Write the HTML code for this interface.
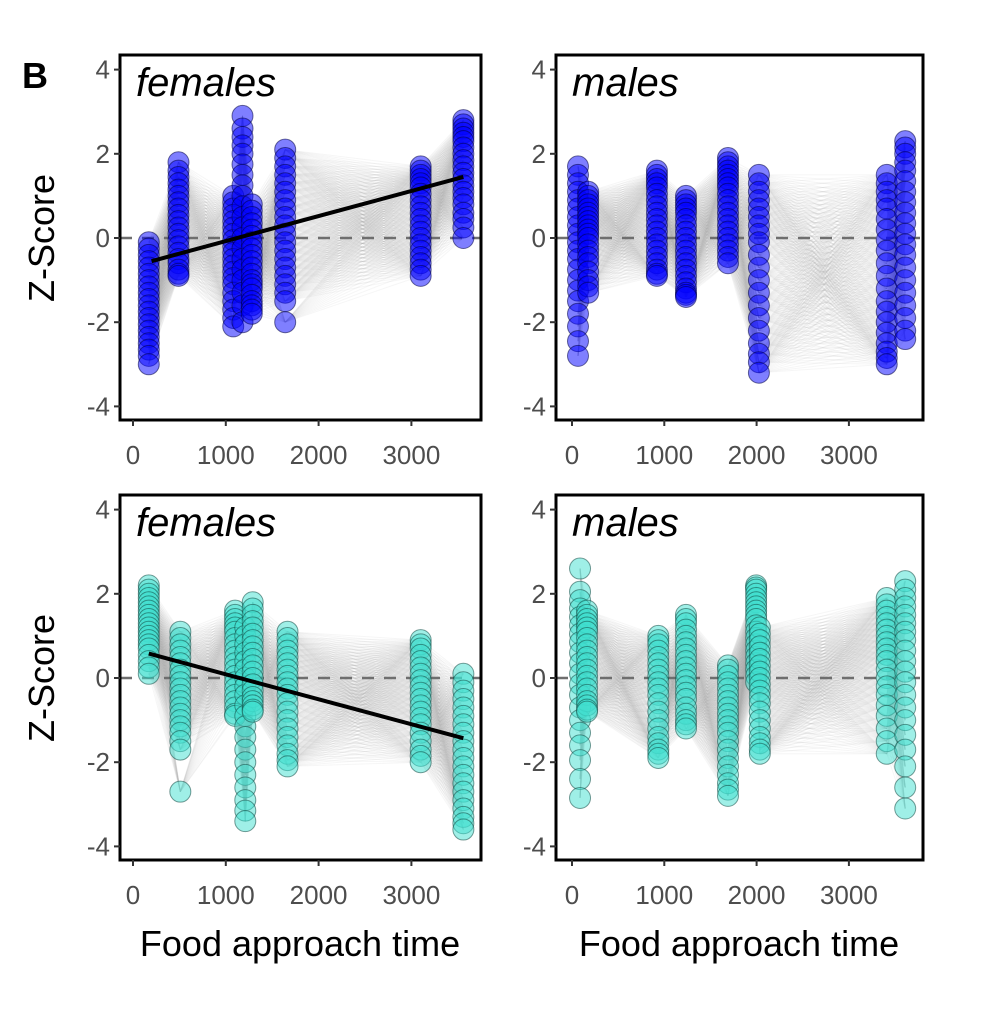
<!DOCTYPE html>
<html><head><meta charset="utf-8"><style>
body{margin:0;background:#fff;}
svg text{font-family:"Liberation Sans",sans-serif;}
</style></head><body>
<svg id="chart" width="988" height="1008" xmlns="http://www.w3.org/2000/svg">
<rect width="988" height="1008" fill="#fff"/>
<text x="22" y="88" font-size="36" font-weight="bold">B</text>
<g id="panels"></g>
<text transform="translate(54,238) rotate(-90)" text-anchor="middle" font-size="36">Z-Score</text>
<text transform="translate(54,678) rotate(-90)" text-anchor="middle" font-size="36">Z-Score</text>
<text x="300" y="956" text-anchor="middle" font-size="36">Food approach time</text>
<text x="739" y="956" text-anchor="middle" font-size="36">Food approach time</text>
</svg>
<script>
const xTicks=[0,1000,2000,3000];
const yTicks=[4,2,0,-2,-4];
// top-left: females (blue)
const tlTimes=[170,490,1080,1180,1280,1640,3100,3560];
const tlVals=[
[-0.1,-0.25,-0.4,-0.55,-0.7,-0.85,-1.0,-1.15,-1.3,-1.45,-1.6,-1.75,-1.9,-2.05,-2.2,-2.35,-2.5,-2.65,-2.8,-3.0],
[1.8,1.6,1.45,1.3,1.15,1.0,0.85,0.7,0.55,0.4,0.25,0.1,-0.05,-0.2,-0.35,-0.5,-0.6,-0.75,-0.85,-0.9],
[1.0,0.85,0.7,0.55,0.4,0.25,0.1,-0.05,-0.2,-0.35,-0.5,-0.65,-0.8,-0.95,-1.1,-1.3,-1.5,-1.7,-1.9,-2.1],
[2.9,2.6,2.4,2.2,2.0,1.75,1.5,1.25,1.0,0.75,0.5,0.25,0.0,-0.25,-0.5,-0.75,-1.0,-1.3,-1.6,-2.0],
[0.8,0.65,0.5,0.35,0.2,0.05,-0.1,-0.25,-0.4,-0.55,-0.7,-0.85,-1.0,-1.1,-1.2,-1.35,-1.5,-1.6,-1.7,-1.8],
[2.1,1.9,1.7,1.5,1.3,1.1,0.9,0.7,0.5,0.3,0.1,-0.1,-0.3,-0.5,-0.7,-0.9,-1.1,-1.3,-1.5,-2.0],
[1.7,1.6,1.5,1.4,1.3,1.2,1.05,0.9,0.75,0.6,0.45,0.3,0.15,0.0,-0.15,-0.3,-0.45,-0.6,-0.75,-0.9],
[2.8,2.7,2.6,2.5,2.4,2.3,2.15,2.0,1.85,1.7,1.55,1.4,1.25,1.1,0.95,0.8,0.6,0.45,0.25,0.0]];
const tlFit=[[200,-0.55],[3560,1.45]];
// top-right: males (blue)
const trTimes=[65,175,920,1235,1690,2025,3410,3610];
const trVals=[
[1.7,1.5,1.3,1.1,0.9,0.7,0.5,0.3,0.1,-0.1,-0.3,-0.5,-0.75,-1.0,-1.25,-1.5,-1.8,-2.1,-2.45,-2.8],
[1.1,1.0,0.9,0.8,0.7,0.6,0.5,0.4,0.3,0.2,0.1,0.0,-0.15,-0.3,-0.45,-0.6,-0.8,-1.0,-1.15,-1.3],
[1.6,1.5,1.4,1.3,1.2,1.05,0.9,0.75,0.6,0.45,0.3,0.15,0.0,-0.15,-0.3,-0.45,-0.6,-0.75,-0.85,-0.9],
[1.0,0.9,0.8,0.7,0.6,0.45,0.3,0.15,0.0,-0.15,-0.3,-0.45,-0.6,-0.75,-0.9,-1.05,-1.2,-1.3,-1.35,-1.4],
[1.9,1.8,1.7,1.6,1.5,1.4,1.3,1.2,1.05,0.9,0.75,0.6,0.45,0.3,0.15,0.0,-0.15,-0.3,-0.45,-0.6],
[1.5,1.3,1.1,0.9,0.7,0.5,0.3,0.1,-0.1,-0.4,-0.7,-1.0,-1.3,-1.6,-1.9,-2.2,-2.5,-2.75,-2.95,-3.2],
[1.5,1.3,1.1,0.9,0.7,0.45,0.2,-0.05,-0.3,-0.6,-0.9,-1.2,-1.5,-1.75,-2.0,-2.25,-2.5,-2.7,-2.85,-3.0],
[2.3,2.15,2.0,1.8,1.6,1.35,1.1,0.85,0.6,0.35,0.1,-0.15,-0.4,-0.7,-1.0,-1.3,-1.6,-1.9,-2.2,-2.4]];
// bottom-left: females (teal)
const blTimes=[170,510,1100,1210,1290,1665,3100,3560];
const blVals=[
[2.2,2.1,2.0,1.9,1.8,1.7,1.6,1.5,1.4,1.3,1.2,1.1,1.0,0.9,0.8,0.7,0.55,0.4,0.25,0.1],
[1.1,0.95,0.8,0.65,0.5,0.35,0.2,0.05,-0.1,-0.25,-0.4,-0.55,-0.7,-0.85,-1.0,-1.15,-1.3,-1.5,-1.7,-2.7],
[1.6,1.5,1.4,1.3,1.2,1.1,0.95,0.8,0.65,0.5,0.35,0.2,0.05,-0.1,-0.25,-0.4,-0.55,-0.7,-0.85,-0.9],
[1.2,1.0,0.8,0.6,0.4,0.2,0.0,-0.2,-0.4,-0.65,-0.9,-1.15,-1.4,-1.7,-2.0,-2.3,-2.6,-2.9,-3.15,-3.4],
[1.8,1.65,1.5,1.35,1.2,1.05,0.9,0.75,0.6,0.45,0.3,0.15,0.0,-0.15,-0.3,-0.45,-0.55,-0.65,-0.75,-0.8],
[1.1,0.95,0.8,0.65,0.5,0.35,0.2,0.05,-0.1,-0.25,-0.4,-0.6,-0.8,-1.0,-1.2,-1.4,-1.6,-1.8,-1.95,-2.1],
[0.9,0.8,0.7,0.55,0.4,0.25,0.1,-0.05,-0.2,-0.35,-0.5,-0.65,-0.8,-0.95,-1.1,-1.3,-1.5,-1.7,-1.85,-2.0],
[0.1,-0.1,-0.3,-0.5,-0.7,-0.9,-1.1,-1.3,-1.5,-1.7,-1.9,-2.1,-2.3,-2.5,-2.7,-2.9,-3.1,-3.3,-3.45,-3.6]];
const blFit=[[170,0.58],[3560,-1.43]];
// bottom-right: males (teal)
const brTimes=[87,163,935,1235,1690,1995,2035,3410,3610];
const brVals=[
[2.6,2.05,1.85,1.65,1.45,1.25,1.05,0.85,0.6,0.35,0.1,-0.15,-0.4,-0.7,-1.0,-1.3,-1.6,-1.95,-2.4,-2.85],
[1.6,1.5,1.4,1.3,1.2,1.1,0.95,0.8,0.65,0.5,0.35,0.2,0.05,-0.1,-0.25,-0.4,-0.55,-0.65,-0.75,-0.8],
[1.0,0.9,0.8,0.65,0.5,0.35,0.2,0.05,-0.1,-0.25,-0.4,-0.6,-0.8,-1.0,-1.2,-1.4,-1.55,-1.7,-1.8,-1.9],
[1.5,1.4,1.3,1.15,1.0,0.85,0.7,0.55,0.4,0.25,0.1,-0.05,-0.2,-0.35,-0.5,-0.7,-0.85,-1.0,-1.1,-1.2],
[0.3,0.2,0.05,-0.1,-0.25,-0.4,-0.55,-0.7,-0.85,-1.0,-1.15,-1.3,-1.5,-1.7,-1.9,-2.1,-2.3,-2.5,-2.65,-2.8],
[2.2,2.15,2.1,2.0,1.9,1.8,1.7,1.6,1.5,1.4,1.25,1.1,0.95,0.8,0.65,0.5,0.35,0.2,0.05,-0.1],
[1.2,1.05,0.9,0.75,0.6,0.45,0.3,0.15,0.0,-0.15,-0.3,-0.45,-0.6,-0.8,-1.0,-1.2,-1.4,-1.55,-1.7,-1.8],
[1.9,1.75,1.6,1.45,1.3,1.15,1.0,0.85,0.7,0.55,0.4,0.2,0.0,-0.2,-0.4,-0.65,-0.9,-1.2,-1.5,-1.8],
[2.3,2.1,1.9,1.7,1.5,1.3,1.1,0.9,0.65,0.4,0.15,-0.1,-0.4,-0.7,-1.0,-1.35,-1.7,-2.1,-2.6,-3.1]];

const NS='http://www.w3.org/2000/svg';
const root=document.getElementById('panels');
function mk(tag,attrs,parent){const e=document.createElementNS(NS,tag);for(const k in attrs)e.setAttribute(k,attrs[k]);parent.appendChild(e);return e;}

function panel(cfg){
  const g=mk('g',{},root);
  
  
  const X=v=>cfg.x0+v*cfg.kx, Y=v=>cfg.y0-v*42.1;
  const lg=mk('g',{stroke:'#b0b0b0','stroke-width':1,'stroke-opacity':0.11,fill:'none'},g);
  
  
  for(let c=0;c<cfg.times.length-1;c++){
    cfg.vals[c].forEach(a=>cfg.vals[c+1].forEach(b=>{
      mk('line',{x1:X(cfg.times[c]),y1:Y(a),x2:X(cfg.times[c+1]),y2:Y(b)},lg);
    }));
  }
  const z=mk('line',{x1:cfg.L,x2:cfg.R,y1:Y(0),y2:Y(0),stroke:'#6e6e6e','stroke-width':2.5,'stroke-dasharray':'12 10'},g);
  
  
  const pg=mk('g',{},g);
  
  
  cfg.times.forEach((t,c)=>cfg.vals[c].forEach(v=>{
    const p=mk('circle',{cx:X(t),cy:Y(v),r:10.5,fill:cfg.fill,'fill-opacity':0.5,stroke:cfg.stroke,'stroke-opacity':0.55,'stroke-width':1},pg);
    
    
  }));
  if(cfg.fit){
    const f=mk('line',{x1:X(cfg.fit[0][0]),y1:Y(cfg.fit[0][1]),x2:X(cfg.fit[1][0]),y2:Y(cfg.fit[1][1]),stroke:'#000','stroke-width':4},g);
    
    
  }
  const b=mk('rect',{x:cfg.L,y:cfg.T,width:cfg.R-cfg.L,height:cfg.B-cfg.T,fill:'none',stroke:'#000','stroke-width':3},g);
  
  
  yTicks.forEach(t=>{
    mk('line',{x1:cfg.L-6,x2:cfg.L,y1:Y(t),y2:Y(t),stroke:'#333','stroke-width':2},g);
    const tx=mk('text',{x:cfg.L-10,y:Y(t)+9,'text-anchor':'end','font-size':26,fill:'#4d4d4d'},g);
    tx.textContent=t;
    
    
  });
  xTicks.forEach(t=>{
    mk('line',{x1:X(t),x2:X(t),y1:cfg.B,y2:cfg.B+6,stroke:'#333','stroke-width':2},g);
    const tx=mk('text',{x:X(t),y:cfg.B+44,'text-anchor':'middle','font-size':26,fill:'#4d4d4d'},g);
    tx.textContent=t;
    
    
  });
  const tt=mk('text',{x:cfg.L+16,y:cfg.T+41,'font-size':40,'font-style':'italic'},g);
  tt.textContent=cfg.title;
  
  
}
panel({name:'panel-females-top',L:120,R:481,T:55,B:420,x0:133,kx:0.0928,y0:238,times:tlTimes,vals:tlVals,fit:tlFit,fill:'#0000ff',stroke:'#000044',title:'females'});
panel({name:'panel-males-top',L:556,R:923,T:55,B:420,x0:572,kx:0.0923,y0:238,times:trTimes,vals:trVals,fill:'#0000ff',stroke:'#000044',title:'males'});
panel({name:'panel-females-bottom',L:120,R:481,T:495,B:860,x0:133,kx:0.0928,y0:678,times:blTimes,vals:blVals,fit:blFit,fill:'#40e0d0',stroke:'#124a44',title:'females'});
panel({name:'panel-males-bottom',L:556,R:923,T:495,B:860,x0:572,kx:0.0923,y0:678,times:brTimes,vals:brVals,fill:'#40e0d0',stroke:'#124a44',title:'males'});
</script>
</body></html>
